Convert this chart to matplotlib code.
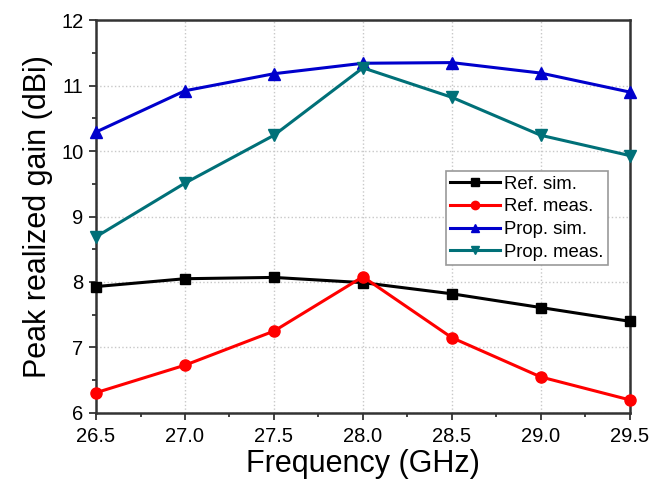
import matplotlib
matplotlib.use("Agg")
import matplotlib.pyplot as plt
from matplotlib.ticker import MultipleLocator

plt.rcParams['font.family'] = ['Liberation Sans', 'DejaVu Sans']

freq = [26.5, 27.0, 27.5, 28.0, 28.5, 29.0, 29.5]
ref_sim = [7.93, 8.05, 8.07, 7.99, 7.82, 7.61, 7.40]
ref_meas = [6.31, 6.73, 7.25, 8.08, 7.15, 6.55, 6.20]
prop_sim = [10.29, 10.92, 11.18, 11.34, 11.35, 11.19, 10.90]
prop_meas = [8.69, 9.51, 10.24, 11.27, 10.82, 10.24, 9.93]

fig = plt.figure(figsize=(6.65, 4.92), dpi=100)
ax = fig.add_axes([0.1444, 0.1606, 0.8026, 0.7987])

lw = 2.2
ax.plot(freq, ref_sim, color='black', marker='s', ms=7, lw=lw, label='Ref. sim.', clip_on=False, zorder=3)
ax.plot(freq, ref_meas, color='#ff0000', marker='o', ms=8, lw=lw, label='Ref. meas.', clip_on=False, zorder=3)
ax.plot(freq, prop_sim, color='#0000cc', marker='^', ms=8, lw=lw, label='Prop. sim.', clip_on=False, zorder=3)
ax.plot(freq, prop_meas, color='#007078', marker='v', ms=8, lw=lw, label='Prop. meas.', clip_on=False, zorder=3)

ax.set_xlim(26.5, 29.5)
ax.set_ylim(6, 12)
ax.xaxis.set_major_locator(MultipleLocator(0.5))
ax.xaxis.set_minor_locator(MultipleLocator(0.25))
ax.yaxis.set_major_locator(MultipleLocator(1))
ax.yaxis.set_minor_locator(MultipleLocator(0.5))
ax.xaxis.set_major_formatter(matplotlib.ticker.FormatStrFormatter('%.1f'))
ax.tick_params(which='both', direction='out', labelsize=14.5, width=1.3, color='#333333')
ax.tick_params(which='major', length=5)
ax.tick_params(which='minor', length=3)
ax.tick_params(axis='x', pad=5)
ax.tick_params(axis='y', pad=4)
ax.grid(True, which='major', linestyle=':', color='#c8c8c8', lw=1)
for s in ax.spines.values():
    s.set_linewidth(1.8)
    s.set_color('#333333')

ax.set_xlabel('Frequency (GHz)', fontsize=22, labelpad=2)
ax.set_ylabel('Peak realized gain (dBi)', fontsize=22, labelpad=6)

leg = ax.legend(loc='upper left', bbox_to_anchor=(0.655, 0.615), fontsize=13.3,
                frameon=True, fancybox=False, edgecolor='#999999', framealpha=1,
                handlelength=2.7, handletextpad=0.2, borderpad=0.25, labelspacing=0.3,
                borderaxespad=0, markerscale=0.75)
leg.get_frame().set_linewidth(1.2)

fig.savefig('out.png', dpi=100)
